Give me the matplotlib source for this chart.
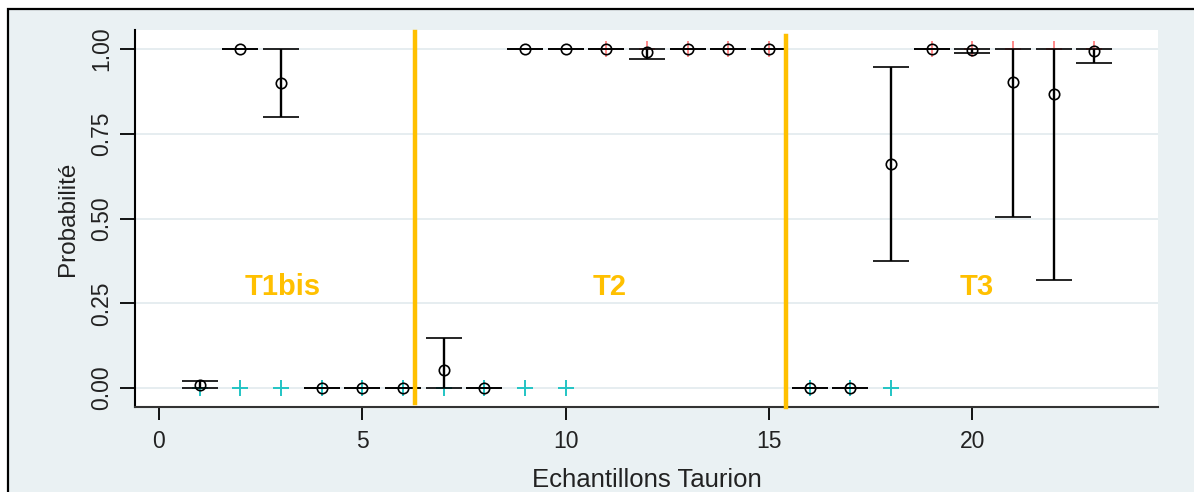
import matplotlib.pyplot as plt
from matplotlib.patches import Rectangle

# Estimated probabilities with confidence bounds per sample
samples = list(range(1, 24))
prob = [0.009, 1.0, 0.899, 0.0, 0.0, 0.0, 0.053, 0.0, 1.0, 1.0, 1.0, 0.992,
        1.0, 1.0, 1.0, 0.0, 0.0, 0.66, 1.0, 0.997, 0.904, 0.867, 0.994]
low = [0.0, 1.0, 0.798, 0.0, 0.0, 0.0, 0.0, 0.0, 1.0, 1.0, 1.0, 0.970,
       1.0, 1.0, 1.0, 0.0, 0.0, 0.375, 1.0, 0.988, 0.504, 0.32, 0.958]
high = [0.0215, 1.0, 1.0, 0.0, 0.0, 0.0, 0.147, 0.0, 1.0, 1.0, 1.0, 1.0,
        1.0, 1.0, 1.0, 0.0, 0.0, 0.946, 1.0, 1.0, 1.0, 1.0, 1.0]

# Observed outcomes
obs0_x = [1, 2, 3, 4, 5, 6, 7, 8, 9, 10, 16, 17, 18]
obs0_y = [0] * len(obs0_x)
obs1_x = [11, 12, 13, 14, 15, 19, 20, 21, 22, 23]
obs1_y = [1] * len(obs1_x)

# Group separators and labels
sep_x = [6.30, 15.42]
sep_y0 = [-0.043, -0.056]
sep_y1 = [1.050, 1.037]
group_labels = ["T1bis", "T2", "T3"]
group_x = [3.05, 11.09, 20.1]
group_y = 0.298

BG = "#EAF1F3"
GOLD = "#FFC000"
TXT = "#222222"

plt.rcParams["font.family"] = ["Liberation Sans", "DejaVu Sans"]

fig = plt.figure(figsize=(11.94, 4.92), dpi=100, facecolor="white")
fig.patches.append(Rectangle((8 / 1194, -0.05), 1.1, (492 - 9) / 492 + 0.05,
                             transform=fig.transFigure, facecolor=BG,
                             edgecolor="black", linewidth=1.6, zorder=-5))

ax = fig.add_axes([135 / 1194, (492 - 407) / 492, (1158 - 135) / 1194, (407 - 30) / 492])
ax.set_zorder(2)
ax.set_facecolor("white")
ax.set_xlim(-0.59, 24.57)
ax.set_ylim(-0.056, 1.056)

yticks = [0, 0.25, 0.5, 0.75, 1.0]
ax.set_yticks(yticks)
ax.set_yticklabels(["0.00", "0.25", "0.50", "0.75", "1.00"], rotation=90, va="center")
ax.set_xticks([0, 5, 10, 15, 20])
for y in yticks:
    ax.axhline(y, color="#E4ECEF", lw=1.3, zorder=0)

for s in ["top", "right"]:
    ax.spines[s].set_visible(False)
ax.spines["left"].set_linewidth(1.5)
ax.spines["bottom"].set_linewidth(1.5)
ax.spines["bottom"].set_color("#333333")
ax.tick_params(axis="y", length=11, width=1.3, pad=5, labelsize=16.5, labelcolor=TXT)
ax.tick_params(axis="x", length=9.5, width=1.3, pad=7, labelsize=16.5, labelcolor=TXT)

ax.plot(obs0_x, obs0_y, linestyle="none", marker="+", ms=11, mew=1.4,
        color="#22C4C4", zorder=1)
ax.plot(obs1_x, obs1_y, linestyle="none", marker="+", ms=11, mew=1.4,
        color="#FF8A8A", zorder=1)

yerr = [[p - l for p, l in zip(prob, low)], [h - p for p, h in zip(prob, high)]]
ax.errorbar(samples, prob, yerr=yerr, fmt="o", ms=7.5, mfc="none", mec="black",
            mew=1.2, ecolor="black", elinewidth=1.7, capsize=13, capthick=1.7,
            zorder=3)

for x, y0, y1 in zip(sep_x, sep_y0, sep_y1):
    ax.plot([x, x], [y0, y1], color=GOLD, lw=3.2, zorder=4, clip_on=False)

for lab, x in zip(group_labels, group_x):
    ax.text(x, group_y, lab, color=GOLD, fontsize=21, fontweight="bold",
            ha="center", va="center", zorder=5)

ax.set_ylabel("Probabilité", fontsize=17.5, color=TXT, labelpad=8)
ax.set_xlabel("Echantillons Taurion", fontsize=18.5, color=TXT, labelpad=11)

fig.savefig("out.png", dpi=100, facecolor="white")
